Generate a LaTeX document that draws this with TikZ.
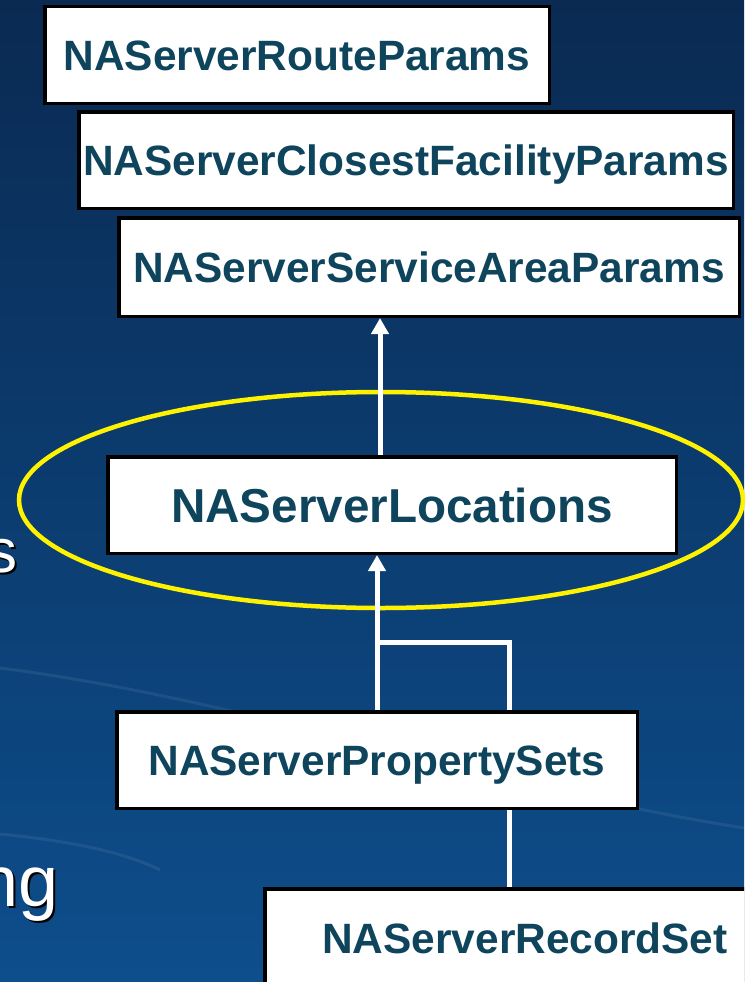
\documentclass[tikz,border=0pt]{standalone}
\usepackage{fontspec}
\setmainfont{Liberation Sans}
\usetikzlibrary{arrows.meta,backgrounds,calc}
\definecolor{bgtop}{HTML}{0A2A52}
\definecolor{bgbot}{HTML}{0D4E8C}
\definecolor{txt}{HTML}{0E445C}
\newcommand{\shadowtext}[1]{\makebox[0pt][l]{\kern2pt\raisebox{-2pt}{\color{black}#1}}#1}
\begin{document}
\begin{tikzpicture}[x=1pt,y=-1pt,
  box/.style={draw=black,line width=3.5pt,fill=white,inner sep=0pt,text=txt,
    font=\fontsize{42.4}{48}\selectfont\bfseries,text height=30.4pt,text depth=0pt},
  arr/.style={draw=white,line width=5pt,-{Triangle[width=17pt,length=16pt]}},
  conn/.style={draw=white,line width=5pt},
  hl/.style={draw=yellow,line width=4.5pt},
  swoosh/.style={draw=white,opacity=0.07,line width=3pt},
  side/.style={text=white,inner sep=0pt,anchor=base east}]
\useasboundingbox (0,0) rectangle (744,982);
\clip (0,0) rectangle (744,982);

% nodes
\node[box,minimum width=504.5pt,minimum height=96.5pt] (route) at (297,55) {NAServerRouteParams};
\node[box,minimum width=654.5pt,minimum height=96.5pt] (cf) at (406,160) {NAServerClosestFacilityParams};
\node[box,minimum width=620.5pt,minimum height=98.5pt] (sa) at (429,267) {NAServerServiceAreaParams};
\node[box,minimum width=568.5pt,minimum height=96.5pt,
  font=\fontsize{47.6}{54}\selectfont\bfseries,text height=34.1pt] (loc) at (392,505) {NAServerLocations};
\node[box,minimum width=520.5pt,minimum height=96.5pt] (ps) at (377,760) {NAServerPropertySets};
\node[box,minimum width=520.5pt,minimum height=98.5pt] (rs) at (525,938) {NAServerRecordSet};

% cut-off slide text on the left
\node[side,font=\fontsize{62}{70}\selectfont] (s) at (18,572) {\shadowtext{s}};
\node[side,font=\fontsize{72}{80}\selectfont] (ng) at (59,906) {\shadowtext{ng}};

\coordinate (c1) at (380,0);
\coordinate (j) at (377,642);
\coordinate (c3) at (509,0);

\begin{scope}[on background layer]
  \shade[top color=bgtop,bottom color=bgbot] (0,0) rectangle (744,982);
  \draw[swoosh] (0,668) .. controls (250,700) and (500,790) .. (744,828);
  \draw[swoosh] (0,834) .. controls (60,840) and (120,850) .. (160,870);
  \draw[hl] (381,500) ellipse [x radius=362, y radius=108];
  \draw[conn] (j) -| (c3 |- rs.north);
\end{scope}

% connectors
\draw[arr] (c1 |- loc.north) -- (c1 |- sa.south);
\draw[arr] (ps.north) -- (ps.north |- loc.south);
\end{tikzpicture}
\end{document}
